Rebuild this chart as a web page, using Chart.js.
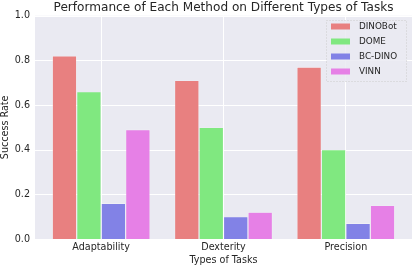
<!DOCTYPE html>
<html>
<head>
<meta charset="utf-8">
<script src="https://cdn.jsdelivr.net/npm/chart.js"></script>
<style>
  html, body { margin: 0; padding: 0; background: #fff; }
  #wrap { width: 412px; height: 266px; }
</style>
</head>
<body>
<div id="wrap"><canvas id="chart" width="412" height="266"></canvas></div>
<script>
// data
const taskTypes = ['Adaptability', 'Dexterity', 'Precision'];
const methods = ['DINOBot', 'DOME', 'BC-DINO', 'VINN'];
const dinobotRates = [0.82, 0.71, 0.77];
const domeRates = [0.66, 0.50, 0.40];
const bcDinoRates = [0.16, 0.10, 0.07];
const vinnRates = [0.49, 0.12, 0.15];
const yTicks = [0.0, 0.2, 0.4, 0.6, 0.8, 1.0];

const colors = ['#e88080', '#80e880', '#8282e6', '#e680e6'];
const textColor = '#262626';
const font = 'DejaVu Sans';
const tickSize = 9.6;

// axes background reaches a bit past the category band, like matplotlib margins
const bgLeft = 35, bgRight = 412;

const backdrop = {
  id: 'backdrop',
  beforeDraw(chart) {
    const ctx = chart.ctx;
    const a = chart.chartArea;
    const y = chart.scales.y;
    ctx.save();
    ctx.fillStyle = '#eaeaf2';
    ctx.fillRect(bgLeft, a.top, bgRight - bgLeft, a.bottom - a.top);
    ctx.strokeStyle = '#ffffff';
    ctx.lineWidth = 1;
    yTicks.forEach(v => {
      const py = Math.round(y.getPixelForValue(v)) + 0.5;
      ctx.beginPath();
      ctx.moveTo(bgLeft, py);
      ctx.lineTo(bgRight, py);
      ctx.stroke();
    });
    ctx.restore();
  }
};

const boxLegend = {
  id: 'boxLegend',
  afterDraw(chart) {
    const ctx = chart.ctx;
    const x0 = 326.5, y0 = 20.5, w = 80, h = 61;
    ctx.save();
    ctx.fillStyle = 'rgba(234,234,242,0.85)';
    ctx.fillRect(x0, y0, w, h);
    ctx.strokeStyle = '#cccccc';
    ctx.setLineDash([1, 2]);
    ctx.strokeRect(x0, y0, w, h);
    ctx.setLineDash([]);
    ctx.font = '8.8px "' + font + '"';
    ctx.textBaseline = 'middle';
    chart.data.datasets.forEach((ds, i) => {
      const cy = 26.5 + i * 15;
      ctx.fillStyle = ds.backgroundColor;
      ctx.fillRect(331, cy - 3, 19, 6);
      ctx.fillStyle = textColor;
      ctx.fillText(ds.label, 359, cy);
    });
    ctx.restore();
  }
};

const seriesValues = [dinobotRates, domeRates, bcDinoRates, vinnRates];

new Chart(document.getElementById('chart'), {
  type: 'bar',
  data: {
    labels: taskTypes,
    datasets: methods.map((m, i) => ({
      label: m,
      data: seriesValues[i],
      backgroundColor: colors[i],
      borderColor: 'rgba(255,255,255,0.5)',
      borderWidth: 0.6,
      categoryPercentage: 0.8,
      barPercentage: 1.0
    }))
  },
  options: {
    responsive: false,
    animation: false,
    devicePixelRatio: 1,
    layout: { padding: { left: 0, right: 5, top: 0, bottom: 0 } },
    plugins: {
      legend: { display: false },
      tooltip: { enabled: false },
      title: {
        display: true,
        fullSize: false,
        text: 'Performance of Each Method on Different Types of Tasks',
        color: textColor,
        font: { family: font, size: 12.1, weight: 'normal', lineHeight: 1.2 },
        padding: { top: 0, bottom: 0.5 }
      }
    },
    scales: {
      x: {
        offset: true,
        grid: { display: true, offset: false, color: '#ffffff', lineWidth: 1, drawTicks: false },
        border: { display: false },
        ticks: { color: textColor, font: { family: font, size: tickSize }, padding: 3, maxRotation: 0 },
        title: {
          display: true,
          text: 'Types of Tasks',
          color: textColor,
          font: { family: font, size: tickSize },
          padding: { top: 0, bottom: 0 }
        },
        afterFit(s) { s.height = 27; }
      },
      y: {
        min: 0,
        max: 1,
        afterBuildTicks(s) { s.ticks = yTicks.map(v => ({ value: v })); },
        grid: { display: false, drawTicks: false },
        border: { display: false },
        ticks: {
          color: textColor,
          font: { family: font, size: tickSize },
          padding: 10,
          callback: v => v.toFixed(1)
        },
        title: {
          display: true,
          text: 'Success Rate',
          color: textColor,
          font: { family: font, size: tickSize },
          padding: { top: 0, bottom: 0 }
        },
        afterFit(s) { s.width = 40; }
      }
    }
  },
  plugins: [backdrop, boxLegend]
});
</script>
</body>
</html>
